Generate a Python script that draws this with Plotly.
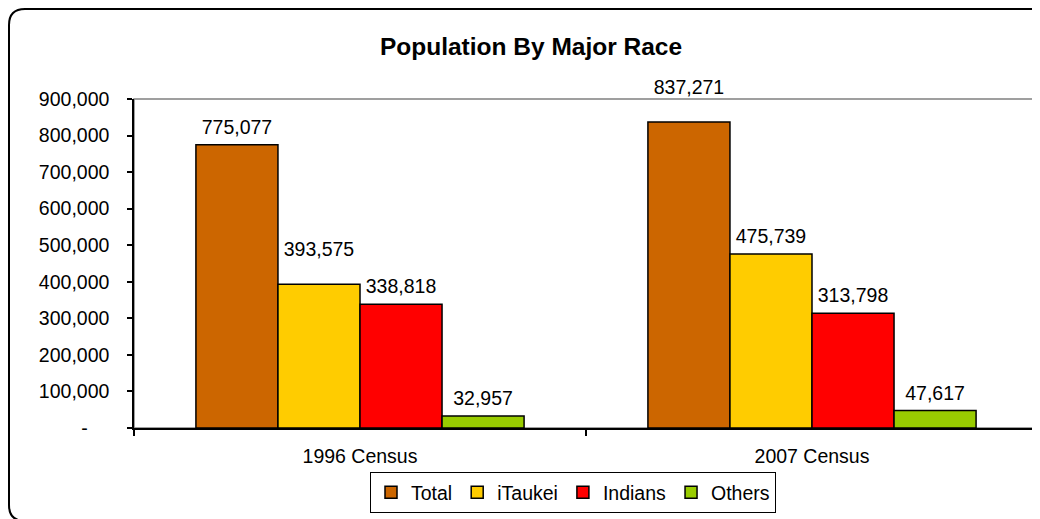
import plotly.graph_objects as go

categories = ["1996 Census", "2007 Census"]
series_names = ["Total", "iTaukei", "Indians", "Others"]
total = [775077, 837271]
itaukei = [393575, 475739]
indians = [338818, 313798]
others = [32957, 47617]
series_values = [total, itaukei, indians, others]
colors = ["#CC6600", "#FFCC00", "#FF0000", "#99CC00"]
tick_vals = [0, 100000, 200000, 300000, 400000, 500000, 600000, 700000, 800000, 900000]
tick_text = ["-\u00a0\u00a0\u00a0\u00a0", "100,000", "200,000", "300,000", "400,000",
             "500,000", "600,000", "700,000", "800,000", "900,000"]

# label spacing style (invisible marker size sets the distance of the label above the bar)
label_pad = {"Total": [8, 36], "iTaukei": [36, 8], "Indians": [8, 8], "Others": [8, 8]}

# the page shows the figure with an 8px offset, so the figure is 8px smaller
W, H = 1032, 511
L, R, T, B = 126, 2, 91, 91
FONT = "Arial, Liberation Sans, sans-serif"
FS = 19.5
GAP = 0.274

fig = go.Figure()
for name, vals, col in zip(series_names, series_values, colors):
    fig.add_trace(go.Bar(
        name=name, x=categories, y=vals, offsetgroup=name,
        marker=dict(color=col, line=dict(color="black", width=1.5)),
        hoverinfo="name+y",
    ))
for name, vals in zip(series_names, series_values):
    fig.add_trace(go.Scatter(
        x=categories, y=vals, offsetgroup=name, mode="markers+text",
        marker=dict(size=label_pad[name], opacity=0),
        text=[f"{v:,}" for v in vals], textposition="top center",
        textfont=dict(family=FONT, size=FS, color="black"),
        showlegend=False, cliponaxis=False, hoverinfo="skip",
    ))

pw, ph = W - L - R, H - T - B
def px(x):
    return (x - L) / pw
def py(y):
    return (H - B - y) / ph

# outer rounded border (figure pixel coordinates)
x0, y0, x1, y1, r = 1, 1, 1060, 513, 16
path = (f"M {px(x0)},{py(y0 + r)} Q {px(x0)},{py(y0)} {px(x0 + r)},{py(y0)} "
        f"L {px(x1)},{py(y0)} L {px(x1)},{py(y1)} L {px(x0 + r)},{py(y1)} "
        f"Q {px(x0)},{py(y1)} {px(x0)},{py(y1 - r)} Z")

fig.update_layout(
    width=W, height=H,
    margin=dict(l=L, r=R, t=T, b=B),
    barmode="group", bargap=GAP, bargroupgap=0,
    scattermode="group", scattergap=GAP,
    plot_bgcolor="white", paper_bgcolor="white",
    font=dict(family=FONT, size=FS, color="black"),
    title=dict(text="<b>Population By Major Race</b>", x=523 / W, xanchor="center",
               xref="container", y=1 - 38 / H, yanchor="middle", yref="container",
               font=dict(family=FONT, size=24.5, color="black")),
    showlegend=True,
    legend=dict(orientation="h", x=px(565), xanchor="center", y=py(464), yanchor="top",
                bordercolor="black", borderwidth=1, font=dict(family=FONT, size=FS, color="black"),
                bgcolor="white"),
    shapes=[
        dict(type="rect", xref="paper", yref="paper", x0=0, x1=1, y0=0, y1=1,
             line=dict(color="#808080", width=1.5), layer="below"),
        dict(type="path", xref="paper", yref="paper", path=path,
             line=dict(color="black", width=2)),
    ],
)
fig.update_yaxes(range=[0, 900000], tickvals=tick_vals, ticktext=tick_text,
                 showgrid=False, zeroline=False, showline=True, linecolor="black", linewidth=1.5,
                 ticks="outside", ticklen=5, tickcolor="black", tickwidth=1.5,
                 ticklabelstandoff=14)
fig.update_xaxes(showgrid=False, showline=True, linecolor="black", linewidth=1.5,
                 ticks="outside", tickson="boundaries", ticklen=6, tickcolor="black", tickwidth=1.5,
                 ticklabelstandoff=10)

fig.write_html("out.html")
